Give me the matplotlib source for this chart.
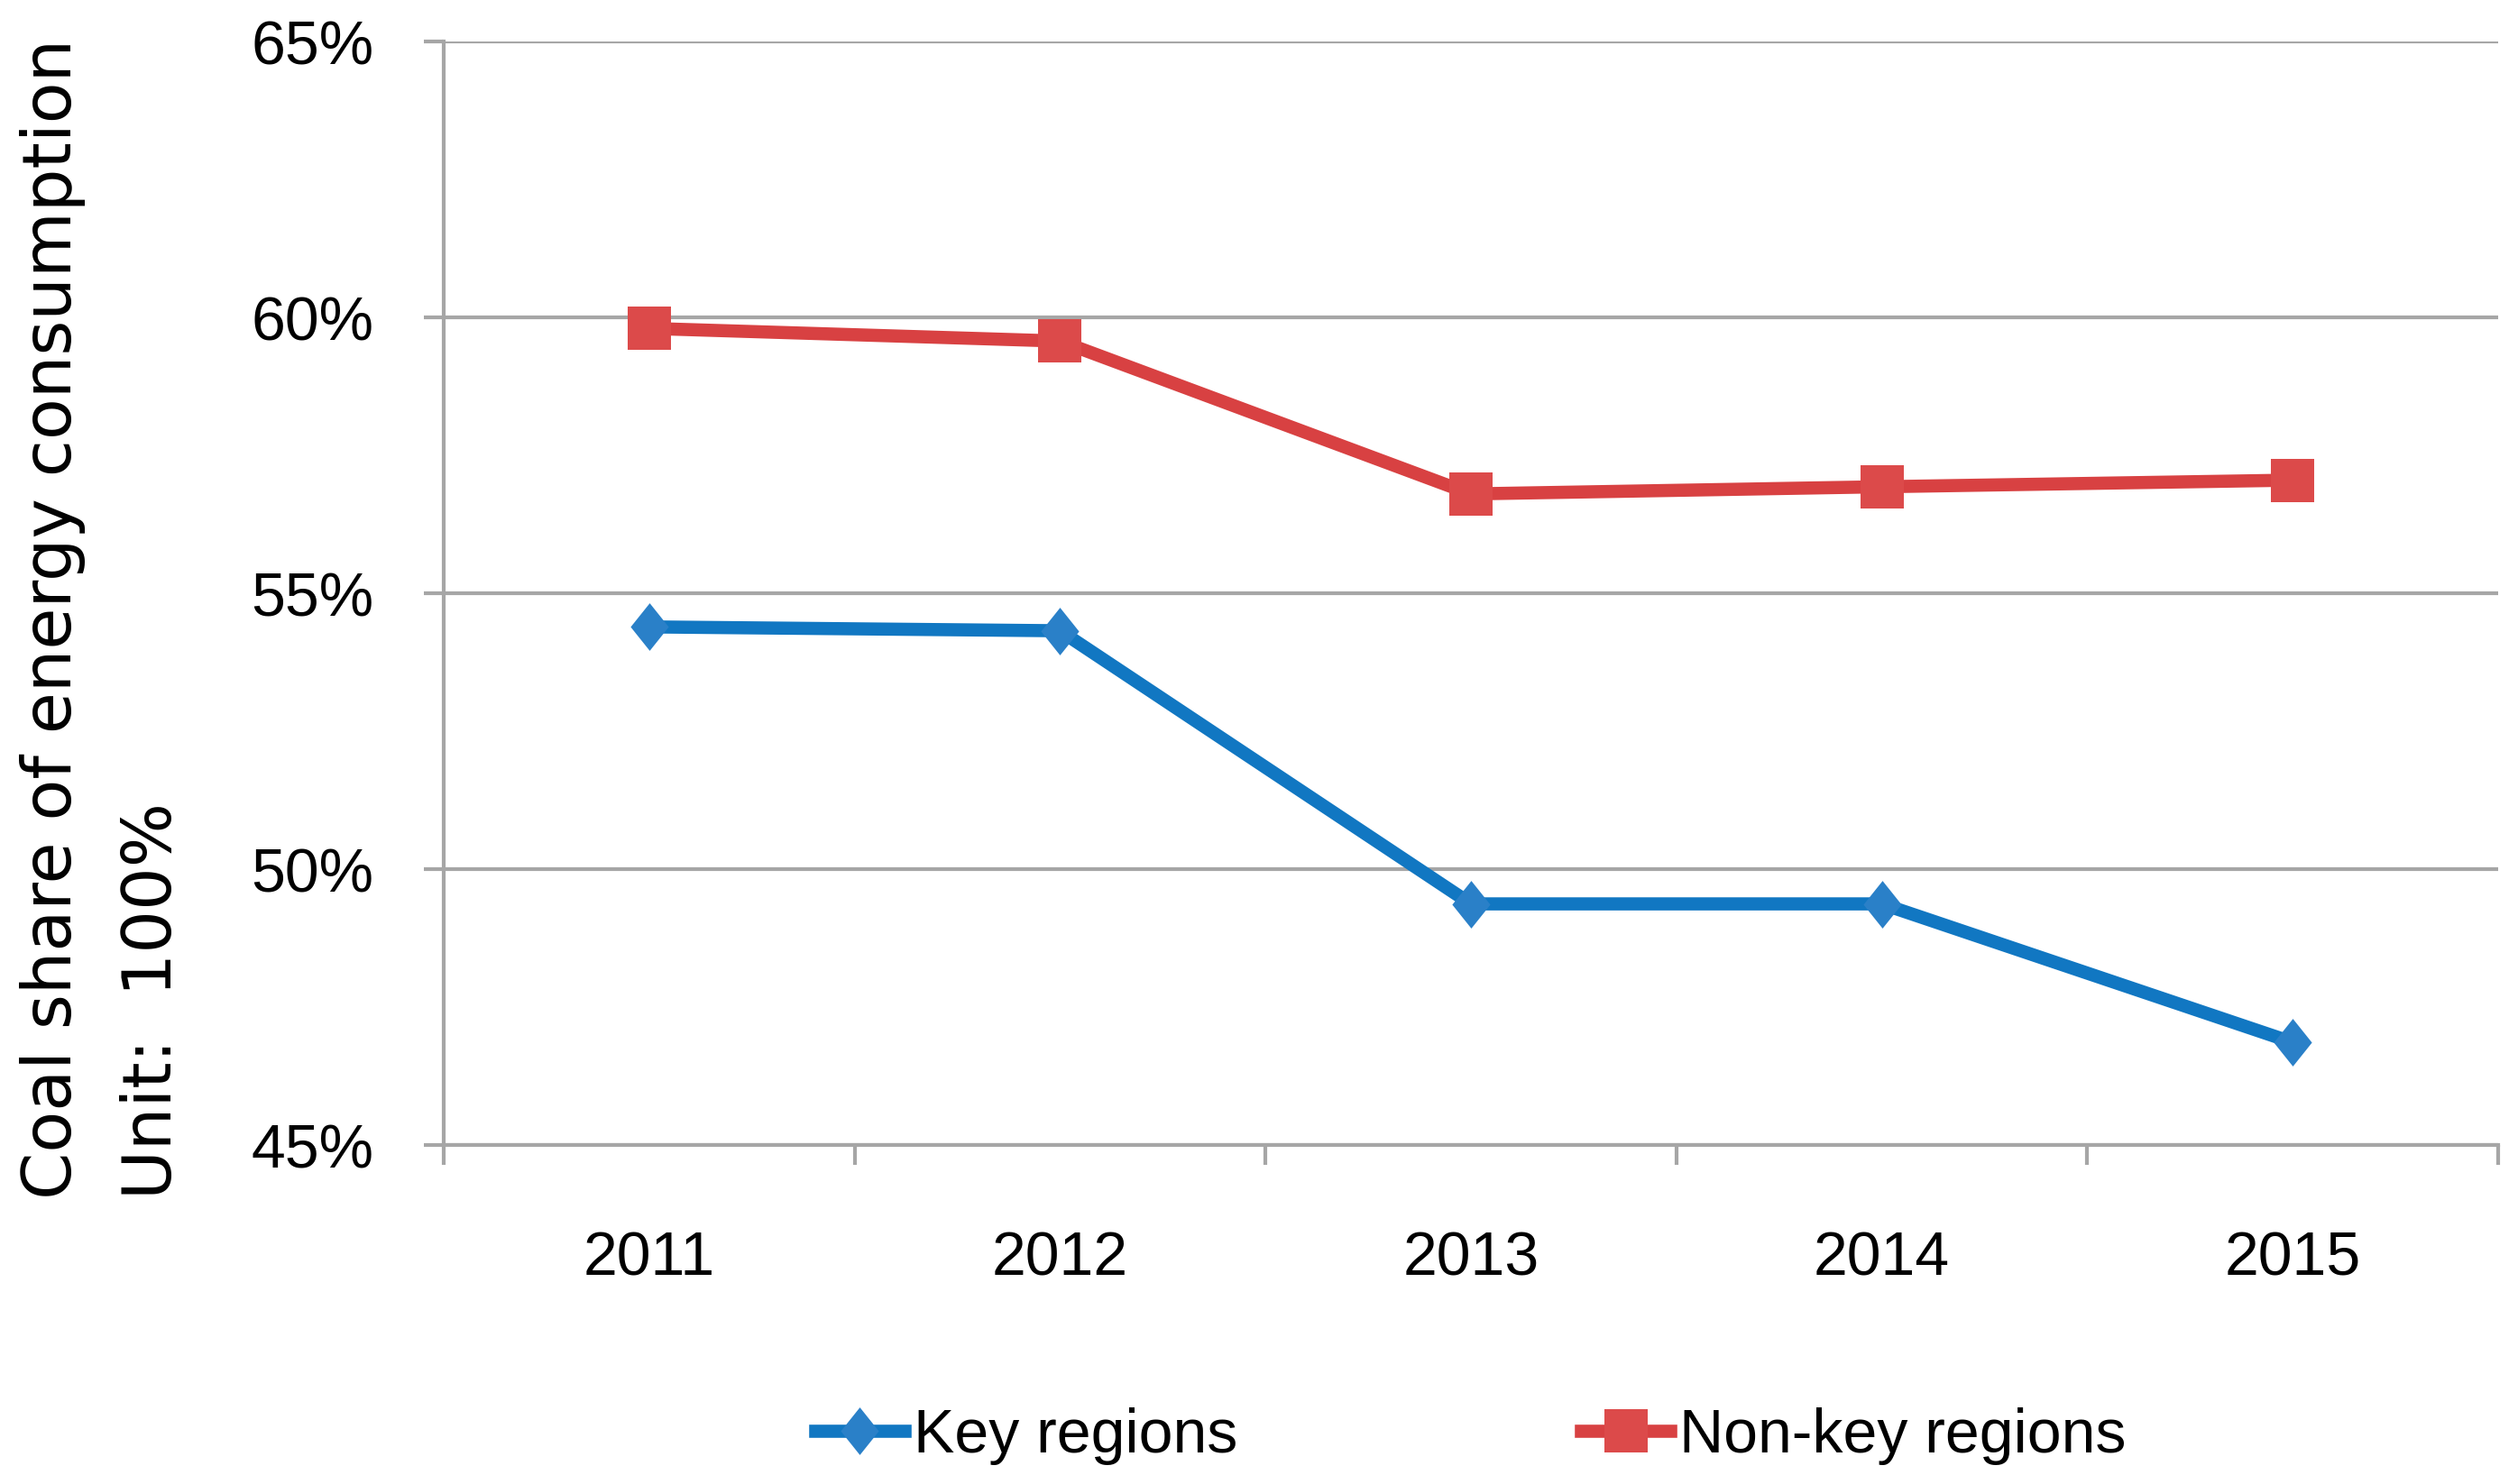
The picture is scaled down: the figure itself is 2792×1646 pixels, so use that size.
#! -*- coding: utf-8 -*-

#---------------------------------
# モジュールのインポート
#---------------------------------
import matplotlib
matplotlib.use('Agg')
import matplotlib.pyplot as plt
from matplotlib.ticker import FixedLocator, FuncFormatter

#---------------------------------
# データ
#---------------------------------
years = ['2011', '2012', '2013', '2014', '2015']
key_regions = [54.39, 54.32, 49.37, 49.37, 46.86]
non_key_regions = [59.80, 59.57, 56.80, 56.93, 57.05]
series_names = ['Key regions', 'Non-key regions']
y_ticks = [45, 50, 55, 60, 65]
y_label = 'Coal share of energy consumption\nUnit:  100%'

#---------------------------------
# 定数定義
#---------------------------------
W, H, DPI = 2792, 1646, 100
BLUE = '#1177C2'
BLUE_MK = '#2A80C8'
RED = '#D84142'
RED_MK = '#DC4A4A'
GRID = '#A6A6A6'
TICK_FONT = ['Liberation Sans']
DIAMOND = [(-0.40, 0), (0, 0.5), (0.40, 0), (0, -0.5), (-0.40, 0)]
SQUARE = [(-0.5, -0.5), (0.5, -0.5), (0.5, 0.5), (-0.5, 0.5), (-0.5, -0.5)]
AX_L, AX_R, AX_T, AX_B = 492, 2770, 46, 1270

#---------------------------------
# 関数
#---------------------------------
def main():
	fig = plt.figure(figsize=(W / DPI, H / DPI), dpi=DPI)
	ax = fig.add_axes([AX_L / W, 1 - AX_B / H, (AX_R - AX_L) / W, (AX_B - AX_T) / H])

	x = list(range(len(years)))

	# --- 系列 ---
	ax.plot(x, key_regions, color=BLUE, lw=10.5, marker=DIAMOND, ms=38,
			mfc=BLUE_MK, mec=BLUE_MK, mew=0, label=series_names[0], zorder=3)
	ax.plot(x, non_key_regions, color=RED, lw=10.5, marker=SQUARE, ms=35,
			mfc=RED_MK, mec=RED_MK, mew=0, label=series_names[1], zorder=3)

	# --- 軸 ---
	ax.set_xlim(-0.5, len(years) - 0.5)
	ax.set_ylim(y_ticks[0], y_ticks[-1])
	ax.yaxis.set_major_locator(FixedLocator(y_ticks))
	ax.yaxis.set_major_formatter(FuncFormatter(lambda v, p: '{:d}%'.format(int(round(v)))))
	ax.grid(axis='y', color=GRID, lw=3, zorder=0)

	ax.xaxis.set_major_locator(FixedLocator([i - 0.5 for i in range(len(years) + 1)]))
	ax.xaxis.set_major_formatter(FuncFormatter(lambda v, p: ''))
	ax.xaxis.set_minor_locator(FixedLocator(x))
	ax.set_xticklabels(years, minor=True)

	for s in ['top', 'right']:
		ax.spines[s].set_visible(False)
	for s in ['left', 'bottom']:
		ax.spines[s].set_color(GRID)
		ax.spines[s].set_linewidth(3)

	ax.tick_params(axis='y', which='major', length=16, width=3, color=GRID, pad=40,
			labelsize=49, labelcolor='black')
	ax.tick_params(axis='x', which='major', length=16, width=3, color=GRID)
	ax.tick_params(axis='x', which='minor', length=0, pad=68, labelsize=49, labelcolor='black')
	for lab in ax.get_yticklabels() + ax.get_xticklabels(minor=True):
		lab.set_family(TICK_FONT)

	# --- 軸ラベル ---
	fig.text(22 / W, 1 - 1330 / H, y_label, rotation=90, ha='left', va='bottom',
			multialignment='left', linespacing=1.66, fontsize=54, family=['DejaVu Sans'])

	# --- 凡例 ---
	axc = (AX_L + AX_R) / 2 / W
	fig.legend(loc='center', bbox_to_anchor=(axc, 1 - 1593 / H), ncol=2, frameon=False,
			handlelength=1.45, handletextpad=0.15, columnspacing=5.6,
			prop={'family': TICK_FONT, 'size': 49})

	fig.savefig('out.png', dpi=DPI)
	plt.close(fig)
	return

#---------------------------------
# メイン処理
#---------------------------------
if __name__ == '__main__':
	main()
